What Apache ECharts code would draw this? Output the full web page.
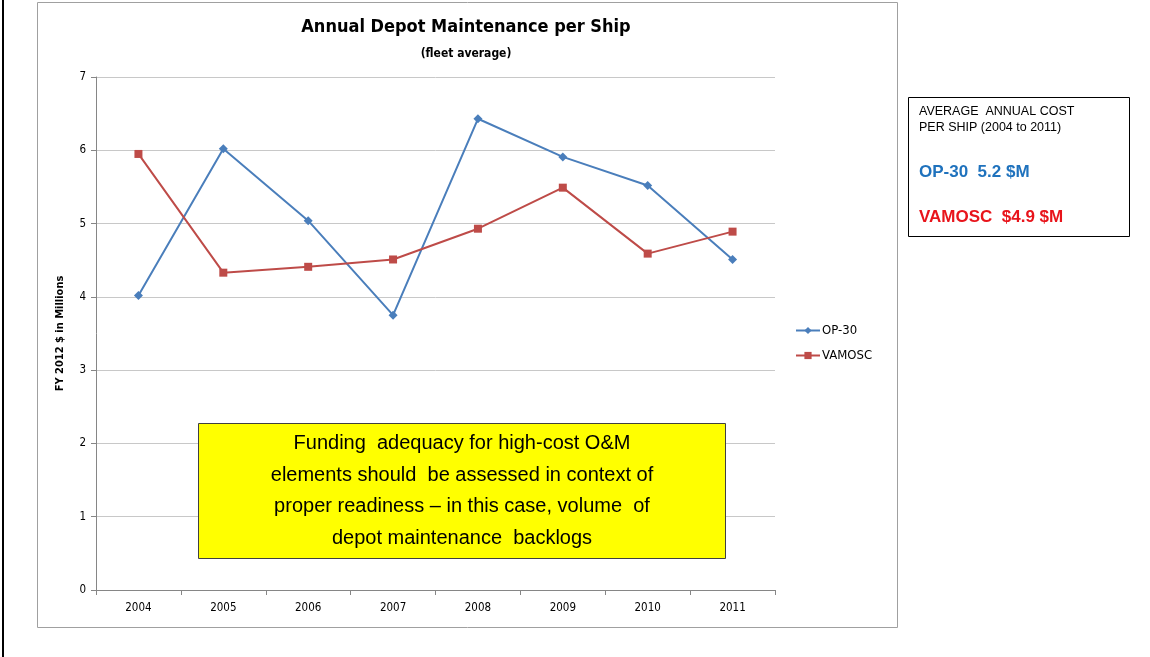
<!DOCTYPE html>
<html><head><meta charset="utf-8">
<script src="https://cdn.jsdelivr.net/npm/echarts@6/dist/echarts.min.js"></script>
<style>html,body{margin:0;padding:0;background:#fff}#c{width:1150px;height:657px}</style>
</head><body><div id="c"></div>
<script>
const years = ['2004','2005','2006','2007','2008','2009','2010','2011'];
const op30 = [4.02, 6.02, 5.04, 3.75, 6.43, 5.91, 5.52, 4.51];
const vamosc = [5.95, 4.33, 4.41, 4.51, 4.93, 5.49, 4.59, 4.89];
const yTicks = [0, 1, 2, 3, 4, 5, 6, 7];
const boxLines = ['Funding  adequacy for high-cost O&M', 'elements should  be assessed in context of', 'proper readiness – in this case, volume  of', 'depot maintenance  backlogs'];

const chart = echarts.init(document.getElementById('c'));
const F = '"DejaVu Sans Condensed","Liberation Sans",sans-serif';
chart.setOption({
  animation: false,
  title: [
    {text: 'Annual Depot Maintenance per Ship', left: 461, top: 13, textAlign: 'center',
     textStyle: {fontFamily: F, fontWeight: 'bold', fontSize: 18, color: '#000'}},
    {text: '(fleet average)', left: 461, top: 43, textAlign: 'center',
     textStyle: {fontFamily: F, fontWeight: 'bold', fontSize: 12, color: '#000'}}
  ],
  grid: {left: 96, top: 77, width: 679, height: 513, containLabel: false},
  legend: {
    orient: 'vertical', left: 790, top: 319, itemGap: 12, itemWidth: 24, itemHeight: 9,
    textStyle: {fontFamily: F, fontSize: 13, color: '#000', padding: [0, 0, 0, -3]},
    data: ['OP-30', 'VAMOSC']
  },
  xAxis: {
    type: 'category', data: years, boundaryGap: true,
    axisLine: {lineStyle: {color: '#868686'}},
    axisTick: {show: true, lineStyle: {color: '#868686'}, length: 5},
    axisLabel: {fontFamily: F, fontSize: 11.5, color: '#000', margin: 12}
  },
  yAxis: {
    type: 'value', min: yTicks[0], max: yTicks[yTicks.length-1], interval: 1,
    name: 'FY 2012 $ in Millions', nameLocation: 'middle', nameGap: 30, nameRotate: 90,
    nameTextStyle: {fontFamily: F, fontWeight: 'bold', fontSize: 11, color: '#000'},
    axisLine: {show: true, lineStyle: {color: '#868686'}},
    axisTick: {show: true, inside: false, length: 5, lineStyle: {color: '#868686'}},
    axisLabel: {fontFamily: F, fontSize: 11.5, color: '#000', margin: 10},
    splitLine: {lineStyle: {color: '#c8c8c8'}}
  },
  series: [
    {name: 'OP-30', type: 'line', data: op30, symbol: 'diamond', symbolSize: 9,
     color: '#4a7ebb', lineStyle: {width: 2, color: '#4a7ebb'}, itemStyle: {color: '#4a7ebb'}},
    {name: 'VAMOSC', type: 'line', data: vamosc, symbol: 'rect', symbolSize: 8,
     color: '#be4b48', lineStyle: {width: 2, color: '#be4b48'}, itemStyle: {color: '#be4b48'}}
  ],
  graphic: [
    {type: 'line', shape: {x1: 3, y1: 0, x2: 3, y2: 657}, style: {stroke: '#000', lineWidth: 2}, z: -1},
    {type: 'rect', shape: {x: 37.5, y: 2.5, width: 860, height: 625}, style: {fill: 'none', stroke: '#a0a0a0', lineWidth: 1}, z: -1},
    {type: 'rect', shape: {x: 908.5, y: 97.5, width: 221, height: 139}, style: {fill: '#fff', stroke: '#000', lineWidth: 1}},
    {type: 'text', left: 919, top: 104, style: {text: 'AVERAGE  ANNUAL COST\nPER SHIP (2004 to 2011)', font: '12.5px "Liberation Sans", Arial, sans-serif', fill: '#000', lineHeight: 16}},
    {type: 'text', left: 919, top: 164, style: {text: 'OP-30  5.2 $M', font: 'bold 17px "Liberation Sans", Arial, sans-serif', fill: '#1f72bd'}},
    {type: 'text', left: 919, top: 209, style: {text: 'VAMOSC  $4.9 $M', font: 'bold 17px "Liberation Sans", Arial, sans-serif', fill: '#e8141b'}},
    {type: 'rect', shape: {x: 198.5, y: 423.5, width: 527, height: 135}, style: {fill: '#ffff00', stroke: '#404040', lineWidth: 1}, z: 10},
    {type: 'text', x: 462, y: 428, z: 11, style: {text: boxLines.join('\n'), font: '20px "Liberation Sans", Arial, sans-serif', fill: '#000', textAlign: 'center', lineHeight: 31.5}}
  ]
});
</script></body></html>
